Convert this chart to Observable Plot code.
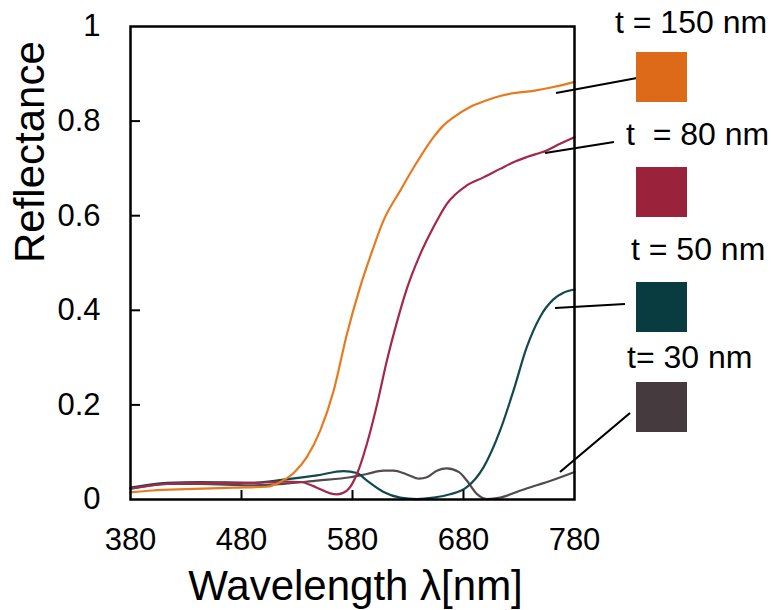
<!DOCTYPE html>
<html>
<head>
<meta charset="utf-8">
<script src="https://cdn.jsdelivr.net/npm/d3@7"></script>
<script src="https://cdn.jsdelivr.net/npm/@observablehq/plot@0.6"></script>
<style>
  html, body { margin: 0; padding: 0; background: #fff; }
  #chart { width: 771px; height: 610px; }
</style>
</head>
<body>
<div id="chart"></div>
<script>
// ---- data ----
const wl150 = [380, 400, 430, 473, 503, 515, 527, 539, 551, 563, 575, 587, 598, 608, 623, 638, 653, 662, 671, 686, 701, 713, 725, 743, 761, 780];
const r150  = [0.015, 0.019, 0.022, 0.025, 0.027, 0.037, 0.056, 0.09, 0.146, 0.23, 0.35, 0.45, 0.527, 0.59, 0.653, 0.713, 0.766, 0.791, 0.808, 0.83, 0.844, 0.853, 0.859, 0.864, 0.872, 0.883];

const wl80 = [380, 413, 443, 488, 518, 533, 548, 560, 566, 575, 584, 593, 602, 611, 620, 629, 640, 653, 665, 683, 698, 713, 725, 737, 755, 767, 780];
const r80  = [0.023, 0.033, 0.035, 0.035, 0.038, 0.037, 0.025, 0.013, 0.011, 0.019, 0.054, 0.118, 0.2, 0.294, 0.375, 0.446, 0.513, 0.576, 0.625, 0.664, 0.681, 0.699, 0.713, 0.724, 0.738, 0.752, 0.766];

const wl50 = [380, 413, 443, 488, 518, 548, 572, 584, 593, 608, 623, 638, 653, 668, 683, 698, 713, 725, 737, 749, 761, 770, 780];
const r50  = [0.025, 0.035, 0.037, 0.035, 0.042, 0.051, 0.06, 0.056, 0.04, 0.016, 0.004, 0.001, 0.004, 0.011, 0.026, 0.068, 0.146, 0.23, 0.322, 0.386, 0.423, 0.437, 0.444];

const wl30 = [380, 413, 443, 488, 518, 548, 578, 593, 608, 617, 629, 640, 647, 656, 665, 676, 683, 692, 701, 713, 728, 743, 758, 780];
const r30  = [0.023, 0.033, 0.033, 0.03, 0.033, 0.04, 0.047, 0.054, 0.061, 0.061, 0.053, 0.044, 0.047, 0.061, 0.066, 0.058, 0.04, 0.012, 0.001, 0.004, 0.016, 0.028, 0.039, 0.058];

const seriesNames  = ["t= 30 nm", "t = 50 nm", "t  = 80 nm", "t = 150 nm"];
const lineColors   = ["#544a4e", "#12494d", "#a3284a", "#e67a1f"];
const swatchColors = ["#453a3e", "#093c40", "#9a233b", "#dc6a18"];

const xTickValues = [380, 480, 580, 680, 780];
const yTickValues = [0, 0.2, 0.4, 0.6, 0.8, 1];
const xInnerTicks = [480, 580, 680];
const yInnerTicks = [0.2, 0.4, 0.6, 0.8];

const xTitle = "Wavelength λ[nm]";
const yTitle = "Reflectance";

// ---- tidy table built from the arrays ----
const seriesWl = [wl30, wl50, wl80, wl150];
const seriesR  = [r30, r50, r80, r150];
const rows = [];
seriesNames.forEach((name, i) => {
  seriesWl[i].forEach((w, j) => rows.push({series: name, wl: w, r: seriesR[i][j]}));
});

// ---- layout ----
const W = 771, H = 610;
const mL = 130, mR = 197, mT = 26, mB = 111;
const plotW = W - mL - mR, plotH = H - mT - mB;

// legend layout (pixels, decoration only)
const legendLayout = [
  {tx: 627, ty: 368, sy: 382, lx1: 560, ly1: 472, lx2: 630, ly2: 413},
  {tx: 631, ty: 260, sy: 282, lx1: 555, ly1: 308, lx2: 625, ly2: 304},
  {tx: 626, ty: 145, sy: 167, lx1: 545, ly1: 153, lx2: 614, ly2: 142},
  {tx: 615, ty: 33,  sy: 52,  lx1: 556, ly1: 93,  lx2: 637, ly2: 78}
];

function legendMark() {
  const g = d3.create("svg:g").attr("text-anchor", "start");
  seriesNames.forEach((name, i) => {
    const L = legendLayout[i];
    g.append("line")
      .attr("x1", L.lx1).attr("y1", L.ly1).attr("x2", L.lx2).attr("y2", L.ly2)
      .attr("stroke", "black").attr("stroke-width", 2.2);
    g.append("rect")
      .attr("x", 636).attr("y", L.sy).attr("width", 51).attr("height", 50)
      .attr("fill", swatchColors[i]);
    g.append("text")
      .attr("x", L.tx).attr("y", L.ty)
      .attr("text-anchor", "start")
      .attr("font-size", 32)
      .attr("fill", "black")
      .style("white-space", "pre")
      .attr("xml:space", "preserve")
      .text(name);
  });
  return g.node();
}

const chart = Plot.plot({
  width: W,
  height: H,
  marginLeft: mL,
  marginRight: mR,
  marginTop: mT,
  marginBottom: mB,
  style: {fontFamily: "'Liberation Sans', Arial, sans-serif", fontSize: "31px", color: "black", background: "white", overflow: "visible"},
  x: {
    domain: [380, 780],
    ticks: xTickValues,
    tickSize: 0,
    tickPadding: 28,
    tickFormat: d => String(d),
    label: null
  },
  y: {
    domain: [0, 1],
    ticks: yTickValues,
    tickSize: 0,
    tickPadding: 30,
    tickFormat: d => String(+d.toFixed(1)),
    label: null
  },
  color: {domain: seriesNames, range: lineColors},
  marks: [
    Plot.line(rows, {x: "wl", y: "r", z: "series", stroke: "series", strokeWidth: 2.2, curve: "monotone-x"}),
    Plot.ruleX(xInnerTicks, {x: d => d, stroke: "black", strokeWidth: 2, insetTop: plotH - 9}),
    Plot.ruleY(yInnerTicks, {y: d => d, stroke: "black", strokeWidth: 2, insetRight: plotW - 10}),
    Plot.frame({stroke: "black", strokeWidth: 2.5}),
    Plot.text([xTitle], {frameAnchor: "bottom", text: d => d, dy: 87, dx: 3, fontSize: 42, lineAnchor: "middle", fill: "black"}),
    Plot.text([yTitle], {frameAnchor: "left", text: d => d, dx: -100, rotate: -90, fontSize: 42, lineAnchor: "middle", fill: "black"}),
    legendMark
  ]
});

document.getElementById("chart").appendChild(chart);
</script>
</body>
</html>
